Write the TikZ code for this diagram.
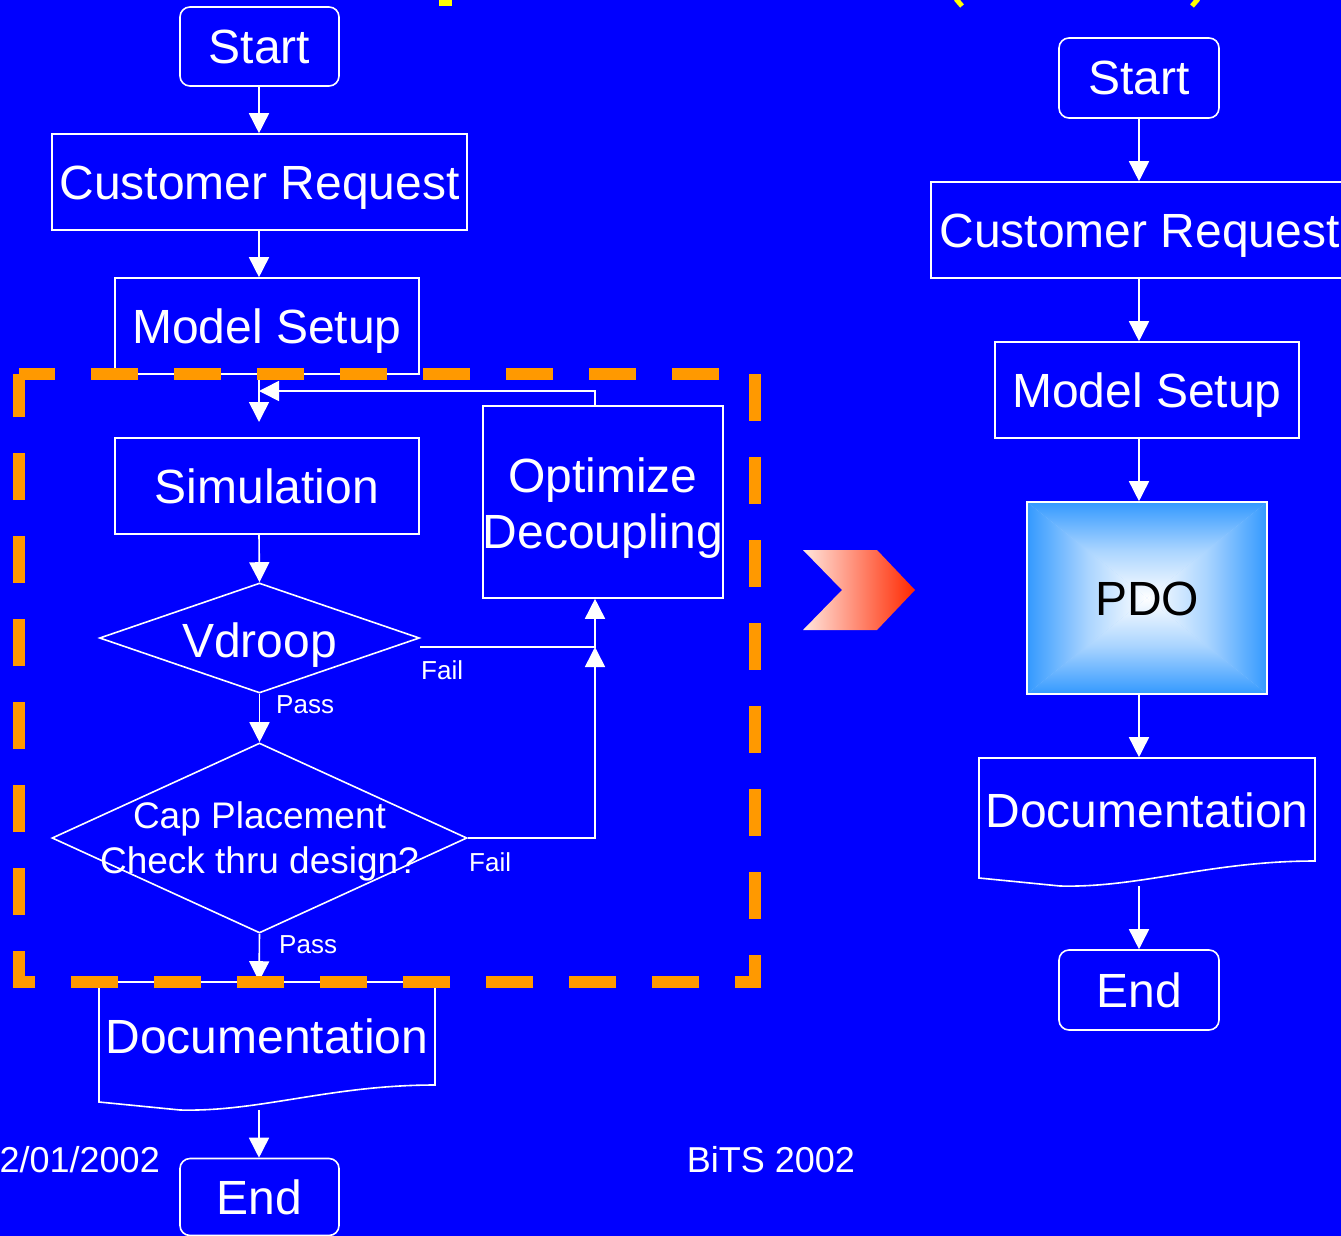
\documentclass[tikz,border=0pt]{standalone}
\usepackage{fontspec}
\setmainfont{Liberation Sans}
\usetikzlibrary{arrows.meta,shapes.geometric,backgrounds}
\definecolor{bgblue}{RGB}{0,0,255}
\definecolor{dashorange}{RGB}{255,153,0}
\definecolor{pdoblue}{RGB}{51,153,255}
\definecolor{titleyellow}{RGB}{255,255,0}
\definecolor{chevlight}{RGB}{255,230,222}
\definecolor{chevred}{RGB}{255,40,0}
\colorlet{pdomid}{pdoblue!42!white}
\begin{document}
\begin{tikzpicture}[x=1pt,y=-1pt,
  box/.style={draw=white, line width=1.6pt, text=white, inner sep=0pt,
    font=\fontsize{48}{56}\selectfont, text height=40pt, text depth=6pt},
  rbox/.style={box, rounded corners=10pt},
  diam/.style={diamond, draw=white, line width=1.6pt, inner sep=0pt},
  txt/.style={text=white, inner sep=0pt, align=center},
  arr/.style={draw=white, line width=1.6pt, -{Triangle[length=20pt,width=20pt]}},
  lbl/.style={text=white, font=\fontsize{26}{30}\selectfont, inner sep=0pt, anchor=west},
  foot/.style={text=white, font=\fontsize{36}{40}\selectfont, inner sep=0pt}]
\useasboundingbox (0,0) rectangle (1341,1236);
\begin{scope}[on background layer]
  \fill[bgblue] (0,0) rectangle (1341,1236);
  % PDO box gradient (four triangles)
  \fill[pdomid] (1027,502) rectangle (1267,694);
  \shade[top color=pdoblue, bottom color=white, middle color=pdomid] (1027,502) -- (1267,502) -- (1147,598) -- cycle;
  \shade[top color=white, bottom color=pdoblue, middle color=pdomid] (1027,694) -- (1267,694) -- (1147,598) -- cycle;
  \shade[left color=pdoblue, right color=white, middle color=pdomid] (1027,502) -- (1027,694) -- (1147,598) -- cycle;
  \shade[left color=white, right color=pdoblue, middle color=pdomid] (1267,502) -- (1267,694) -- (1147,598) -- cycle;
\end{scope}

% title fragments
\fill[titleyellow] (439,0) rectangle (452,6);
\draw[titleyellow, line width=5pt] (956,-1) -- (962,6);
\draw[titleyellow, line width=5pt] (1198,-1) -- (1192,6);

% helper coordinates
\coordinate (xl) at (259,0);
\coordinate (xr) at (1139,0);
\coordinate (xfb) at (595,0);
\coordinate (simin) at (259,422);
\coordinate (fbend) at (259,391);
\coordinate (vdf) at (420,647);
\coordinate (doc1b) at (259,1110);
\coordinate (doc2b) at (1139,886);

% ---------- left flow ----------
\node[rbox, minimum width=159pt, minimum height=79pt] (s1) at (259.5,46.5) {Start};
\node[box, minimum width=415pt, minimum height=96pt] (cr1) at (259.5,182) {Customer Request};
\node[box, minimum width=304pt, minimum height=96pt] (ms1) at (267,326) {Model Setup};
\node[box, minimum width=304pt, minimum height=96pt] (sim) at (267,486) {Simulation};
\node[box, minimum width=240pt, minimum height=192pt] (opt) at (603,502) {};
\node[txt, font=\fontsize{48}{56}\selectfont] (optt) at (603,508) {Optimize\\Decoupling};
\node[diam, minimum width=320pt, minimum height=110pt] (vd) at (259.5,638) {};
\node[txt, font=\fontsize{48}{56}\selectfont, anchor=base] (vdt) at (259.5,657) {Vdroop};
\node[diam, minimum width=415pt, minimum height=190pt] (cap) at (259.5,838) {};
\node[txt, font=\fontsize{37}{45}\selectfont] (capt) at (259.5,841) {Cap Placement\\Check thru design?};
\node[box, draw=none, minimum width=336pt, minimum height=108pt] (doc1) at (267,1036) {Documentation};
\draw[white, line width=1.6pt] (99,982) -- (435,982) -- (435,1085)
  .. controls (330,1085) and (260,1112) .. (180,1110) -- (99,1102) -- cycle;
\node[rbox, minimum width=159pt, minimum height=77pt] (end1) at (259.5,1197) {End};

\draw[arr] (s1.south -| xl) -- (cr1.north -| xl);
\draw[arr] (cr1.south -| xl) -- (ms1.north -| xl);
\draw[arr] (ms1.south -| xl) -- (simin);
\draw[arr] (opt.north -| xfb) |- (fbend);
\draw[arr] (sim.south -| xl) -- (vd.north);
\draw[arr] (vdf) -| (opt.south -| xfb);
\draw[arr] (vd.south) -- (cap.north);
\draw[arr] (cap.east) -| (vdf -| xfb);
\draw[arr] (cap.south) -- (doc1.north -| xl);
\draw[arr] (doc1b) -- (end1.north -| xl);

\node[lbl] at (421,670) {Fail};
\node[lbl] at (276,705) {Pass};
\node[lbl] at (469,862) {Fail};
\node[lbl] at (279,945) {Pass};

% dashed orange frame
\draw[dashorange, line width=12pt, dash pattern=on 47pt off 36pt, dash phase=11pt]
  (19,374) -- (755,374) -- (755,982) -- (19,982) -- cycle;

% chevron
\shade[left color=chevlight, right color=chevred]
  (803,550) -- (877,550) -- (915,590) -- (877,630) -- (803,630) -- (842,590) -- cycle;

% ---------- right flow ----------
\node[rbox, minimum width=160pt, minimum height=80pt] (s2) at (1139,78) {Start};
\node[box, minimum width=417pt, minimum height=96pt] (cr2) at (1139.5,230) {Customer Request};
\node[box, minimum width=304pt, minimum height=96pt] (ms2) at (1147,390) {Model Setup};
\node[box, text=black, minimum width=240pt, minimum height=192pt] (pdo) at (1147,598) {PDO};
\node[box, draw=none, minimum width=336pt, minimum height=104pt] (doc2) at (1147,810) {Documentation};
\draw[white, line width=1.6pt] (979,758) -- (1315,758) -- (1315,861)
  .. controls (1210,861) and (1140,888) .. (1060,886) -- (979,878) -- cycle;
\node[rbox, minimum width=160pt, minimum height=80pt] (end2) at (1139,990) {End};

\draw[arr] (s2.south -| xr) -- (cr2.north -| xr);
\draw[arr] (cr2.south -| xr) -- (ms2.north -| xr);
\draw[arr] (ms2.south -| xr) -- (pdo.north -| xr);
\draw[arr] (pdo.south -| xr) -- (doc2.north -| xr);
\draw[arr] (doc2b) -- (end2.north -| xr);

% footer
\node[foot, anchor=base east] (date) at (160,1172) {2/01/2002};
\node[foot, anchor=base] (conf) at (771,1172) {BiTS 2002};
\end{tikzpicture}
\end{document}
